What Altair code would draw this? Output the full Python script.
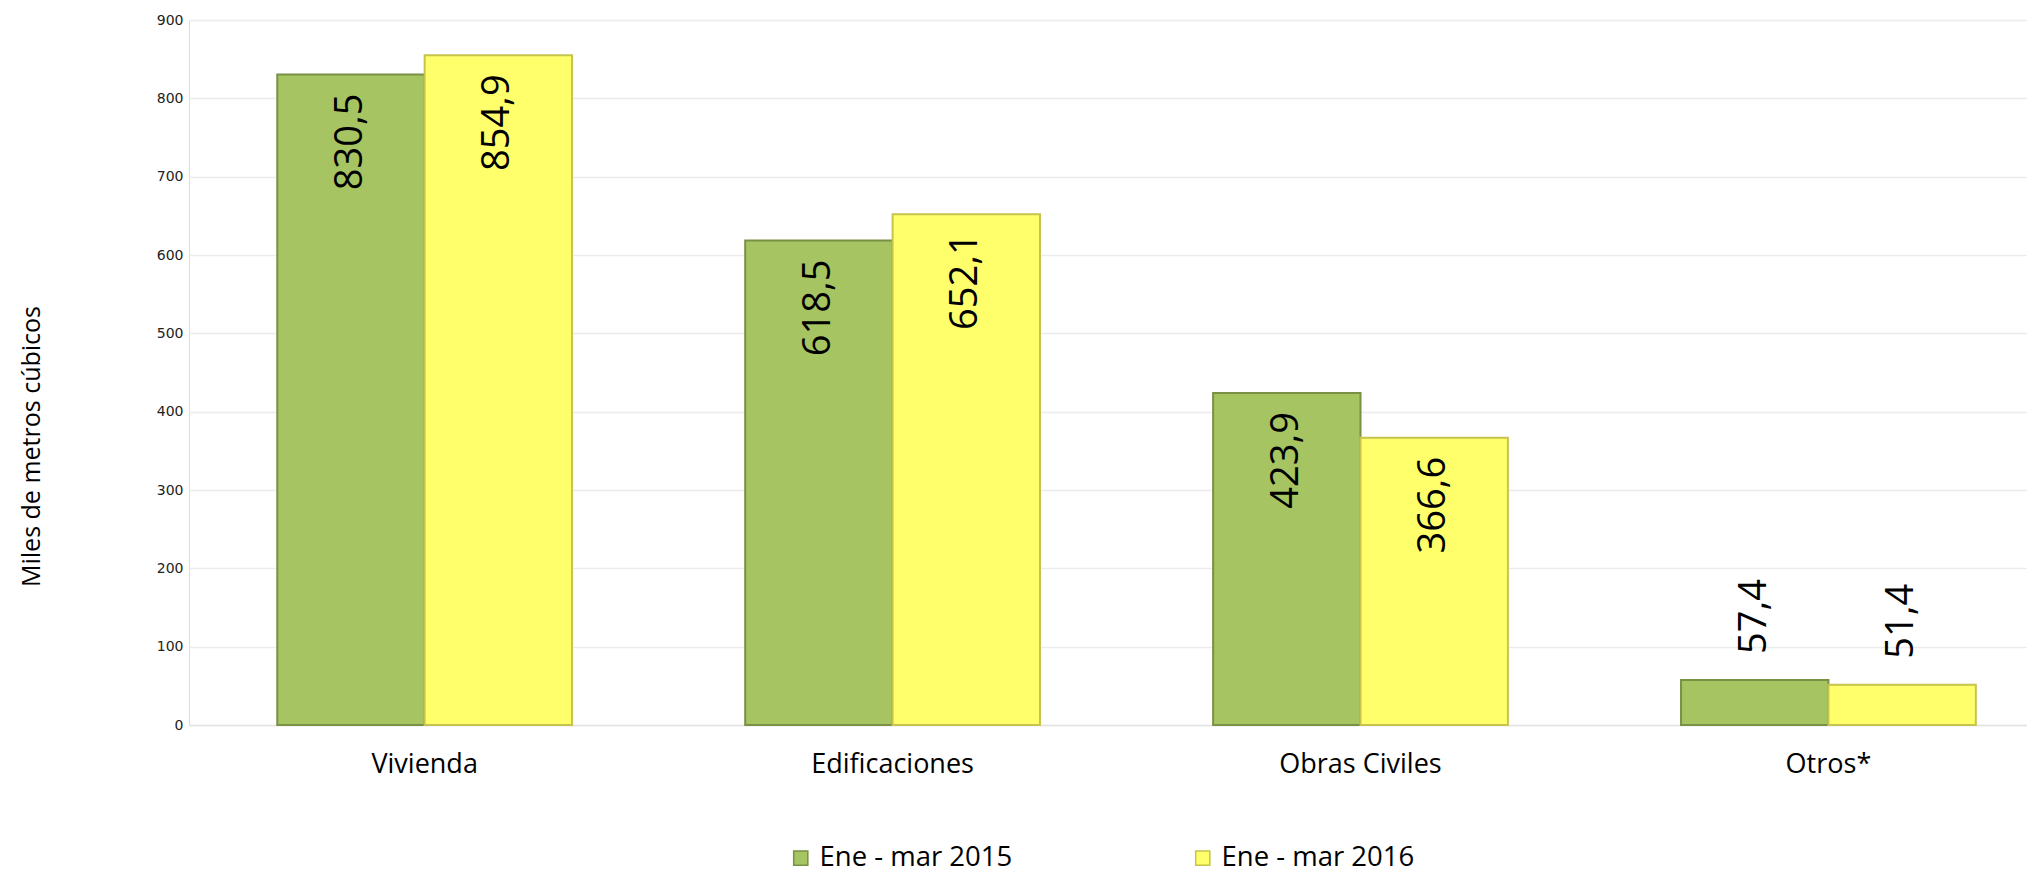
import altair as alt
import pandas as pd

categories = ["Vivienda", "Edificaciones", "Obras Civiles", "Otros*"]
series_names = ["Ene - mar 2015", "Ene - mar 2016"]
values_2015 = [830.5, 618.5, 423.9, 57.4]
values_2016 = [854.9, 652.1, 366.6, 51.4]
y_ticks = [0, 100, 200, 300, 400, 500, 600, 700, 800, 900]

rows = []
for c, v in zip(categories, values_2015):
    rows.append({"categoria": c, "serie": series_names[0], "valor": v})
for c, v in zip(categories, values_2016):
    rows.append({"categoria": c, "serie": series_names[1], "valor": v})
df = pd.DataFrame(rows)

colors = ["#a6c462", "#ffff6c"]
strokes = ["#7a9044", "#c6c44c"]

x_enc = alt.X(
    "categoria:N",
    sort=categories,
    scale=alt.Scale(paddingInner=0.37, paddingOuter=0.149, align=0.633),
    axis=alt.Axis(
        title=None, labelAngle=0, ticks=False, domain=True, domainColor="#e4e4e4",
        domainWidth=1.5, labelFont="Open Sans", labelFontSize=27, labelColor="#000000",
        labelPadding=26,
    ),
)
y_enc = alt.Y(
    "valor:Q",
    scale=alt.Scale(domain=[0, 900], nice=False),
    axis=alt.Axis(
        title="Miles de metros cúbicos", values=y_ticks, ticks=False, domain=False,
        grid=True, gridColor="#ececec", gridWidth=1.5,
        labelFont="DejaVu Sans", labelFontSize=14, labelColor="#222222", labelPadding=6,
        titleFont="Open Sans", titleFontSize=25, titleFontWeight="normal",
        titleColor="#000000", titlePadding=112, titleY=426, titleAlign="center",
    ),
)
xoff = alt.XOffset("serie:N", sort=series_names, scale=alt.Scale(paddingInner=0.0))

base = alt.Chart(df)

bars = base.mark_bar(strokeWidth=2).encode(
    x=x_enc,
    y=y_enc,
    xOffset=xoff,
    color=alt.Color(
        "serie:N",
        sort=series_names,
        scale=alt.Scale(domain=series_names, range=colors),
        legend=alt.Legend(
            title=None, orient="none", direction="horizontal", legendX=598, legendY=824,
            symbolType="square", symbolSize=200, symbolStrokeWidth=1.5,
            labelFont="Open Sans", labelFontSize=27.5, labelColor="#000000",
            labelOffset=5, columnPadding=176, labelLimit=0,
        ),
    ),
    stroke=alt.Stroke(
        "serie:N", sort=series_names,
        scale=alt.Scale(domain=series_names, range=strokes), legend=None,
    ),
)

labels = base.transform_calculate(
    etiqueta="replace(format(datum.valor, '.1f'), '.', ',')"
)

inside = labels.transform_filter("datum.valor >= 100").mark_text(
    angle=270, align="right", baseline="middle", dx=-19,
    font="Open Sans", fontSize=38, color="#000000",
).encode(x=x_enc, y=y_enc, xOffset=xoff, text="etiqueta:N")

outside = labels.transform_filter("datum.valor < 100").mark_text(
    angle=270, align="left", baseline="middle", dx=26,
    font="Open Sans", fontSize=38, color="#000000",
).encode(x=x_enc, y=y_enc, xOffset=xoff, text="etiqueta:N")

chart = alt.layer(bars, inside, outside).properties(
    width=1838,
    height=705,
    autosize=alt.AutoSizeParams(type="none"),
    padding={"left": 181, "top": 12, "right": 0, "bottom": 147},
).configure_view(stroke=None).configure(background="#ffffff")

chart.save("out.html", embed_options={"renderer": "svg", "actions": False})
